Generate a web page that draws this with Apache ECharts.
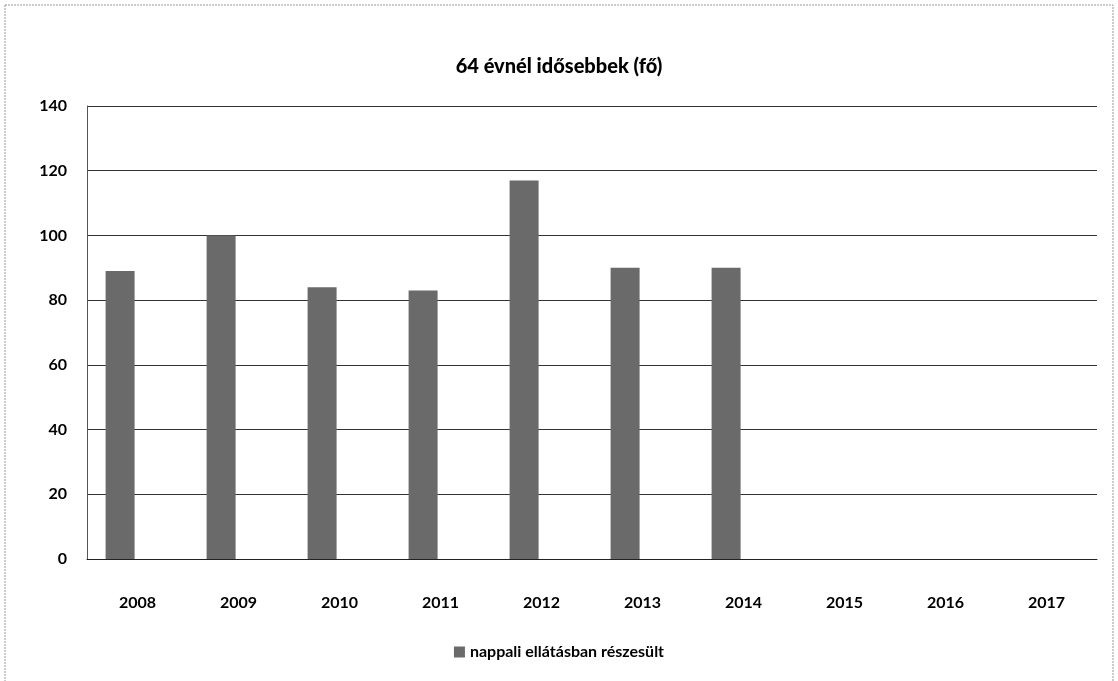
<!DOCTYPE html>
<html>
<head>
<meta charset="utf-8">
<script src="https://cdn.jsdelivr.net/npm/echarts@6/dist/echarts.min.js"></script>
<style>
  html, body { margin: 0; padding: 0; background: #fff; }
  #chart { width: 1118px; height: 681px; }
</style>
</head>
<body>
<div id="chart"></div>
<script>
  // évek és értékek
  const years = ['2008', '2009', '2010', '2011', '2012', '2013', '2014', '2015', '2016', '2017'];
  const nappali = [89, 100, 84, 83, 117, 90, 90, null, null, null];
  // üres második oszlopsor (a csoportban jobbra eltolja a látható oszlopokat)
  const ures = [null, null, null, null, null, null, null, null, null, null];
  const yTicks = [0, 20, 40, 60, 80, 100, 120, 140];

  const chart = echarts.init(document.getElementById('chart'));
  chart.setOption({
    backgroundColor: '#fff',
    textStyle: { fontFamily: 'Lato, "Open Sans", sans-serif' },
    title: {
      text: '64 évnél idősebbek (fő)',
      left: 'center',
      top: 52,
      textStyle: { fontSize: 20, fontWeight: 900, color: '#000' }
    },
    graphic: [{
      type: 'rect',
      shape: { x: 5, y: 5, width: 1108, height: 690 },
      style: { fill: 'none', stroke: '#999', lineWidth: 1, lineDash: [2, 1] },
      silent: true
    }],
    legend: {
      bottom: 16,
      left: 'center',
      icon: 'rect',
      itemWidth: 11,
      itemHeight: 11,
      itemGap: 4,
      textStyle: { fontSize: 16, fontWeight: 'bold', color: '#000' },
      data: ['nappali ellátásban részesült']
    },
    grid: { left: 87, right: 21, top: 106, bottom: 122 },
    xAxis: {
      type: 'category',
      data: years,
      axisLine: { lineStyle: { color: '#222', width: 1 } },
      axisTick: { show: false },
      axisLabel: { fontSize: 16, fontWeight: 'bold', color: '#000', margin: 36 }
    },
    yAxis: {
      type: 'value',
      min: yTicks[0],
      max: yTicks[yTicks.length - 1],
      interval: 20,
      axisLine: { show: true, lineStyle: { color: '#555', width: 1 } },
      axisTick: { show: false },
      axisLabel: { fontSize: 16, fontWeight: 'bold', color: '#000', margin: 20 },
      splitLine: { lineStyle: { color: '#333', width: 1 } }
    },
    series: [{
      name: 'nappali ellátásban részesült',
      type: 'bar',
      data: nappali,
      barWidth: 29,
      barGap: '20%',
      itemStyle: { color: '#6a6a6a' }
    }, {
      name: 'egyéb',
      type: 'bar',
      data: ures,
      barWidth: 29,
      itemStyle: { color: '#aaa' }
    }]
  });
</script>
</body>
</html>
